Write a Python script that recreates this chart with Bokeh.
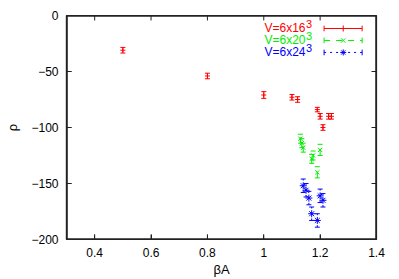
from bokeh.plotting import figure
from bokeh.models import (ColumnDataSource, Whisker, TeeHead, Label, Range1d, FixedTicker)
from bokeh.embed import file_html
from bokeh.resources import INLINE

# ---- data ----
red_beta = [0.5, 0.8, 1.0, 1.1, 1.12, 1.19, 1.2, 1.21, 1.23, 1.24]
red_rho = [-31, -54, -71, -73, -75, -84, -90, -100, -90, -90]
red_err = [2.5, 2.5, 3, 2.5, 2.5, 2, 2.5, 2.5, 2.5, 2.5]

green_beta = [1.13, 1.135, 1.14, 1.17, 1.175, 1.19, 1.2]
green_rho = [-110, -114, -118, -128, -125, -140, -120]
green_err = [4, 4, 4, 4, 4, 5, 5]

blue_beta = [1.14, 1.15, 1.16, 1.17, 1.19, 1.2, 1.21]
blue_rho = [-152, -156, -163, -177, -183, -161, -165]
blue_err = [6, 6, 6, 6, 6, 6, 6]

x_ticks = [0.4, 0.6, 0.8, 1.0, 1.2, 1.4]
y_ticks = [0, -50, -100, -150, -200]
series_labels = ["V=6x16", "V=6x20", "V=6x24"]
FONT = "Liberation Sans"
AX = "#222222"

X0, X1, Y0, Y1 = 0.3, 1.4, -200, 0
FRAME_W, FRAME_H = 310, 225

p = figure(width=399, height=279, min_border_left=66, min_border_right=23,
           min_border_top=15, min_border_bottom=39,
           x_range=Range1d(X0, X1), y_range=Range1d(Y0, Y1),
           output_backend="svg", toolbar_location=None)
p.xgrid.visible = False
p.ygrid.visible = False
p.outline_line_color = AX
p.outline_line_width = 1.2

for ax in (p.xaxis[0], p.yaxis[0]):
    ax.axis_line_color = AX
    ax.axis_line_width = 1.2
    ax.major_tick_line_color = AX
    ax.major_tick_in = 5
    ax.major_tick_out = 0
    ax.minor_tick_in = 0
    ax.minor_tick_out = 0
    ax.major_label_text_font = FONT
    ax.major_label_text_color = "black"
    ax.major_label_text_font_size = "12px"
    ax.major_label_standoff = 8
    ax.axis_label_text_font = FONT
    ax.axis_label_text_font_style = "normal"
    ax.axis_label_text_color = "black"
    ax.axis_label_text_font_size = "13px"

p.xaxis.ticker = FixedTicker(ticks=x_ticks)
p.yaxis.ticker = FixedTicker(ticks=y_ticks)
p.xaxis.major_label_overrides = {1.0: "1"}
p.xaxis.axis_label = "βA"
p.xaxis.axis_label_standoff = 2
p.yaxis.axis_label = "ρ"
p.yaxis.axis_label_standoff = 8

def series(bx, ry, er, color, marker, size, dash):
    src = ColumnDataSource(dict(x=bx, y=ry,
                                lo=[a - b for a, b in zip(ry, er)],
                                hi=[a + b for a, b in zip(ry, er)]))
    w = Whisker(base="x", lower="lo", upper="hi", source=src, line_color=color,
                line_width=1, line_dash=dash,
                lower_head=TeeHead(size=5, line_color=color, line_width=1),
                upper_head=TeeHead(size=5, line_color=color, line_width=1))
    p.add_layout(w)
    p.scatter("x", "y", source=src, marker=marker, size=size, line_color=color,
              fill_color=color, line_width=1)

RED, GREEN, BLUE = "#ff0000", "#00ee00", "#0000ff"
series(red_beta, red_rho, red_err, RED, "cross", 5, "solid")
series(green_beta, green_rho, green_err, GREEN, "x", 6, "dashed")
series(blue_beta, blue_rho, blue_err, BLUE, "asterisk", 7, "dotted")

# ---- legend (text right, sample left-to-right) ----
leg_y = [-11.6, -22.3, -33.0]
colors = [RED, GREEN, BLUE]
markers = ["cross", "x", "asterisk"]
dashes = ["solid", "dashed", "dotted"]
for lab, yy, c, m, d in zip(series_labels, leg_y, colors, markers, dashes):
    p.add_layout(Label(x=1.148, y=yy, text=lab, text_align="right", text_baseline="middle",
                       text_font=FONT, text_font_size="12px", text_color=c))
    p.add_layout(Label(x=1.150, y=yy + 3.7, text="3", text_align="left", text_baseline="middle",
                       text_font=FONT, text_font_size="11px", text_color=c))
    p.segment(x0=[1.214], y0=[yy], x1=[1.349], y1=[yy], line_color=c, line_dash=d, line_width=1)
    p.segment(x0=[1.214, 1.349], y0=[yy - 2.5, yy - 2.5], x1=[1.214, 1.349], y1=[yy + 2.5, yy + 2.5],
              line_color=c, line_width=1)
    p.scatter(x=[1.282], y=[yy], marker=m, size=6, line_color=c)

# frame box and inward ticks on all four sides, drawn last as glyphs
p.segment(x0=[X0, X0, X0, X1], y0=[Y0, Y1, Y0, Y0], x1=[X1, X1, X0, X1], y1=[Y0, Y1, Y1, Y1],
          line_color=AX, line_width=2.5)
tx = 5 * (X1 - X0) / FRAME_W
ty = 5 * (Y1 - Y0) / FRAME_H
xt = [t for t in x_ticks if X0 < t < X1]
yt = [t for t in y_ticks if Y0 < t < Y1]
p.segment(x0=xt + xt, y0=[Y0] * len(xt) + [Y1] * len(xt),
          x1=xt + xt, y1=[Y0 + ty] * len(xt) + [Y1 - ty] * len(xt),
          line_color=AX, line_width=1)
p.segment(x0=[X0] * len(yt) + [X1] * len(yt), y0=yt + yt,
          x1=[X0 + tx] * len(yt) + [X1 - tx] * len(yt), y1=yt + yt,
          line_color=AX, line_width=1)

open("out.html", "w").write(file_html(p, INLINE))
